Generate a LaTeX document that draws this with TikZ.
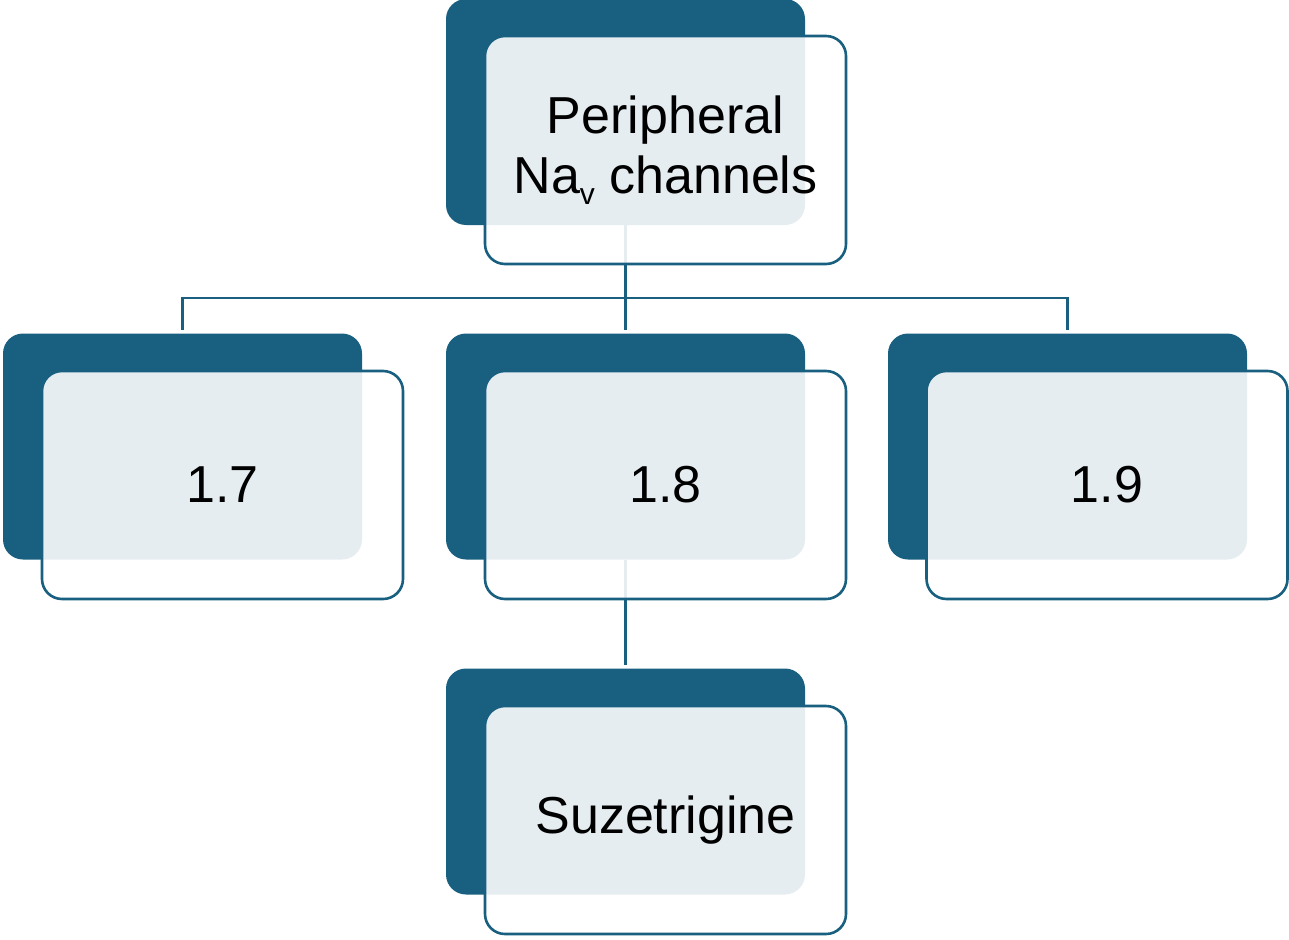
\documentclass[tikz,border=0pt]{standalone}
\usepackage{fontspec}
\setmainfont{Liberation Sans}
\usetikzlibrary{calc}
\definecolor{deepteal}{RGB}{24,95,128}
\tikzset{
  backcard/.style={rectangle, rounded corners=20pt, fill=deepteal, draw=none,
    minimum width=359pt, minimum height=226pt, inner sep=0pt},
  frontcard/.style={rectangle, rounded corners=20pt, fill=white, fill opacity=0.89,
    text opacity=1, draw=deepteal, draw opacity=1, line width=2.6pt,
    minimum width=361pt, minimum height=228pt, inner sep=0pt, align=center,
    font=\fontsize{52}{60}\selectfont},
  link/.style={draw=deepteal, line width=2.6pt}
}
\begin{document}
\begin{tikzpicture}[x=1pt,y=-1pt]
\useasboundingbox (0,0) rectangle (1289,939);
% back cards
\node[backcard] (rootB) at (625.5,112) {};
\node[backcard] (aB) at (182.5,446.5) {};
\node[backcard] (bB) at (625.5,446.5) {};
\node[backcard] (cB) at (1067.5,446.5) {};
\node[backcard] (dB) at (625.5,781.5) {};
% connectors, laid under the translucent front cards
\coordinate (bus) at (625.5,298);
\draw[link] (rootB.south) -- (bus);
\draw[link, shorten >=3pt] (bus) -| (aB.north);
\draw[link, shorten >=3pt] (bus) -| (cB.north);
\draw[link, shorten >=3pt] (bus) -- (bB.north);
\draw[link, shorten >=3pt] (bB.south) -- (dB.north);
% front cards with labels
\node[frontcard] (root) at (665.5,150) {Peripheral\\Na\raisebox{-0.22em}{\fontsize{30}{30}\selectfont v} channels};
\node[frontcard] (a) at (222.5,485) {1.7};
\node[frontcard] (b) at (665.5,485) {1.8};
\node[frontcard] (c) at (1107,485) {1.9};
\node[frontcard] (d) at (665.5,820) {Suzetrigine};
\end{tikzpicture}
\end{document}
